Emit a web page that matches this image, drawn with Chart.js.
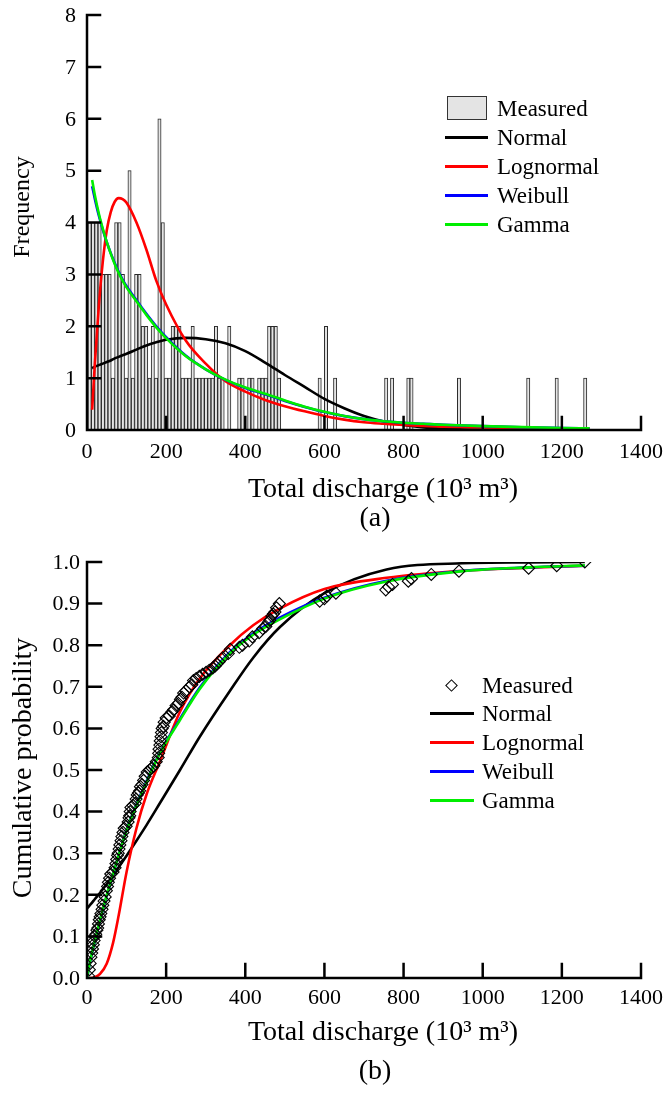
<!DOCTYPE html>
<html>
<head>
<meta charset="utf-8">
<title>Total discharge distributions</title>
<script src="https://cdn.jsdelivr.net/npm/chart.js@4.4.0/dist/chart.umd.min.js"></script>
<style>
  body { margin: 0; background: #fff; width: 665px; height: 1093px; position: relative; overflow: hidden;
         font-family: "Liberation Serif", "Times New Roman", serif; }
  canvas { position: absolute; left: 0; }
  #chartA { top: 0; }
  #chartB { top: 545px; }
  .legend { position: absolute; font-size: 23px; color: #000; }
  .legend .row { position: absolute; left: 0; height: 29px; line-height: 29px; white-space: nowrap; }
  .legend .sw { position: absolute; }
  .legend .txt { position: absolute; top: 0; }
</style>
</head>
<body>
<canvas id="chartA" width="665" height="545"></canvas>
<canvas id="chartB" width="665" height="548"></canvas>
<div class="legend" id="legendA" style="left:445px; top:93.5px;"></div>
<div class="legend" id="legendB" style="left:430px; top:670.5px;"></div>
<script>
const FONT = "'Liberation Serif', 'Times New Roman', serif";

// axis ticks
const xTicks = [0, 200, 400, 600, 800, 1000, 1200, 1400];
const yTicksA = [0, 1, 2, 3, 4, 5, 6, 7, 8];
const yTicksB = [0, 0.1, 0.2, 0.3, 0.4, 0.5, 0.6, 0.7, 0.8, 0.9, 1.0];

const seriesNames = ['Measured', 'Normal', 'Lognormal', 'Weibull', 'Gamma'];
const seriesColors = ['#000000', '#000000', '#ff0000', '#0000ff', '#00ee00'];

// (a) histogram of measured events: bin centre (10^3 m3) and count
const histBin = [6.7, 15.1, 23.5, 31.9, 40.3, 48.7, 57.1, 65.5, 73.9, 82.3,
  90.7, 99.1, 107.5, 115.9, 124.3, 132.7, 141.1, 149.5, 157.9, 166.3,
  174.7, 183.1, 191.5, 199.9, 208.3, 216.7, 225.1, 233.5, 241.9, 250.3,
  258.7, 267.1, 275.5, 283.9, 292.3, 300.7, 309.1, 317.5, 325.9, 334.3,
  342.7, 359.5, 384.7, 393.1, 409.9, 418.3, 435.1, 443.5, 451.9, 460.3,
  468.7, 477.1, 485.5, 588, 604, 627, 756, 771, 812, 820, 940, 1115, 1187, 1259];
const histCount = [4, 4, 4, 4, 3, 3, 3, 1, 4, 4,
  3, 1, 5, 1, 3, 3, 2, 2, 1, 2,
  1, 6, 4, 1, 1, 2, 2, 2, 1, 1,
  1, 2, 1, 1, 1, 1, 1, 1, 2, 1,
  1, 2, 1, 1, 1, 1, 1, 1, 1, 2,
  2, 2, 1, 1, 2, 1, 1, 1, 1, 1, 1, 1, 1, 1];

// (a) fitted density curves, scaled to frequency
const pdfX = [13, 20, 30, 40, 50, 60, 70, 80, 90, 100, 125, 150, 175, 200, 250, 300,
  350, 400, 450, 500, 550, 600, 650, 700, 750, 800, 850, 900, 1000, 1100, 1200, 1270];
const pdfNormal = [1.19, 1.22, 1.25, 1.28, 1.31, 1.34, 1.38, 1.41, 1.44, 1.47, 1.55, 1.63, 1.69, 1.74, 1.775, 1.75,
  1.67, 1.52, 1.30, 1.06, 0.83, 0.60, 0.42, 0.27, 0.165, 0.095, 0.05, 0.025, 0.006, 0.001, 0, 0];
const pdfLognormal = [0.39, 1.3, 2.4, 3.25, 3.85, 4.2, 4.4, 4.47, 4.45, 4.38, 4.0, 3.48, 2.88, 2.42, 1.72, 1.28,
  0.94, 0.74, 0.58, 0.46, 0.36, 0.27, 0.2, 0.15, 0.12, 0.095, 0.078, 0.065, 0.047, 0.035, 0.026, 0.021];
const pdfWeibull = [4.70, 4.45, 4.13, 3.86, 3.62, 3.41, 3.22, 3.05, 2.90, 2.77, 2.50, 2.24, 2.0, 1.79, 1.43, 1.17,
  0.965, 0.81, 0.69, 0.56, 0.445, 0.345, 0.268, 0.21, 0.17, 0.14, 0.12, 0.10, 0.074, 0.054, 0.04, 0.031];
const pdfGamma = [4.82, 4.52, 4.17, 3.88, 3.62, 3.40, 3.20, 3.03, 2.88, 2.75, 2.48, 2.22, 1.98, 1.77, 1.42, 1.17,
  0.97, 0.82, 0.70, 0.57, 0.45, 0.35, 0.27, 0.21, 0.17, 0.14, 0.12, 0.10, 0.075, 0.055, 0.04, 0.032];

// (b) measured cumulative probability
const cdfMeasX = [4, 6, 8, 10, 12, 14, 16, 18, 20, 22, 25, 27, 29, 31, 33, 35, 38, 40, 43, 46,
  49, 52, 54, 57, 60, 66, 71, 73, 75, 77, 79, 81, 83, 86, 88, 91, 94, 99, 104, 106,
  108, 109, 111, 116, 122, 124, 127, 130, 133, 135, 139, 143, 147, 152, 158, 164, 169, 175, 180, 181,
  182, 184, 185, 187, 188, 190, 193, 195, 200, 208, 215, 219, 225, 231, 236, 240, 244, 250, 259, 265,
  269, 276, 284, 292, 301, 309, 318, 324, 328, 334, 343, 357, 362, 385, 393, 410, 418, 435, 444, 452,
  458, 462, 467, 471, 475, 479, 486, 588, 600, 606, 629, 755, 762, 772, 812, 820, 870, 940, 1116, 1187, 1258];
const cdfMeasP = [0.005, 0.02, 0.035, 0.05, 0.06, 0.07, 0.08, 0.09, 0.10, 0.105, 0.115, 0.12, 0.13, 0.14, 0.147, 0.155, 0.165, 0.175, 0.185, 0.195,
  0.21, 0.22, 0.23, 0.24, 0.25, 0.255, 0.265, 0.275, 0.285, 0.295, 0.30, 0.31, 0.32, 0.33, 0.34, 0.35, 0.36, 0.365, 0.375, 0.385,
  0.39, 0.40, 0.41, 0.415, 0.42, 0.43, 0.44, 0.445, 0.45, 0.46, 0.465, 0.475, 0.485, 0.495, 0.50, 0.505, 0.51, 0.52, 0.53, 0.54,
  0.55, 0.56, 0.57, 0.58, 0.59, 0.60, 0.605, 0.615, 0.625, 0.63, 0.64, 0.645, 0.655, 0.66, 0.67, 0.675, 0.685, 0.69, 0.70, 0.705,
  0.715, 0.72, 0.725, 0.73, 0.735, 0.74, 0.745, 0.75, 0.755, 0.76, 0.77, 0.78, 0.79, 0.795, 0.80, 0.81, 0.82, 0.83, 0.84, 0.845,
  0.855, 0.86, 0.87, 0.875, 0.88, 0.89, 0.90, 0.906, 0.912, 0.918, 0.925, 0.933, 0.94, 0.946, 0.954, 0.96, 0.97, 0.978, 0.985, 0.991, 1.0];

// (b) fitted cumulative curves
const cdfX = [0, 10, 20, 33, 50, 66, 80, 100, 125, 150, 184, 235, 285, 361, 420, 487, 600, 757, 950, 1116, 1258];
const cdfNormal = [0.167, 0.178, 0.19, 0.205, 0.226, 0.247, 0.266, 0.294, 0.33, 0.367, 0.42, 0.50, 0.58, 0.69, 0.77, 0.843, 0.925, 0.982, 0.997, 0.999, 1.0];
const cdfLognormal = [0, 0, 0.002, 0.01, 0.035, 0.085, 0.15, 0.255, 0.36, 0.44, 0.52, 0.64, 0.72, 0.80, 0.848, 0.888, 0.935, 0.962, 0.979, 0.986, 0.991];
const cdfWeibull = [0, 0.048, 0.088, 0.138, 0.198, 0.249, 0.295, 0.356, 0.417, 0.472, 0.542, 0.623, 0.698, 0.783, 0.828, 0.866, 0.914, 0.955, 0.979, 0.987, 0.991];
const cdfGamma = [0, 0.05, 0.09, 0.14, 0.20, 0.25, 0.295, 0.355, 0.415, 0.47, 0.54, 0.62, 0.695, 0.78, 0.825, 0.862, 0.912, 0.953, 0.978, 0.987, 0.992];

function pairs(xs, ys) {
  return xs.map((x, i) => ({ x: x, y: ys[i] }));
}

function curve(label, xs, ys, color, order) {
  return {
    type: 'line', label: label, data: pairs(xs, ys),
    borderColor: color, borderWidth: 2.6, pointRadius: 0,
    cubicInterpolationMode: 'monotone', fill: false, order: order
  };
}

// axis lines, inward ticks, tick labels and titles (serif, like the original figure)
const framePlugin = {
  id: 'frame',
  afterDatasetsDraw(chart, args, o) {
    const { ctx, chartArea: a, scales: { x, y } } = chart;
    ctx.save();
    ctx.strokeStyle = '#000';
    ctx.lineWidth = 2.5;
    ctx.lineCap = 'square';
    ctx.beginPath();
    ctx.moveTo(a.left, a.top);
    ctx.lineTo(a.left, a.bottom);
    ctx.lineTo(a.right, a.bottom);
    x.ticks.forEach(t => {
      const px = x.getPixelForValue(t.value);
      ctx.moveTo(px, a.bottom);
      ctx.lineTo(px, a.bottom - o.tickLen);
    });
    y.ticks.forEach(t => {
      const py = y.getPixelForValue(t.value);
      ctx.moveTo(a.left, py);
      ctx.lineTo(a.left + o.tickLen, py);
    });
    ctx.stroke();
    ctx.restore();
  },
  afterDraw(chart, args, o) {
    const { ctx, chartArea: a, scales: { x, y } } = chart;
    ctx.save();
    ctx.fillStyle = '#000';
    ctx.textBaseline = 'middle';
    ctx.font = '22px ' + FONT;
    ctx.textAlign = 'center';
    x.ticks.forEach(t => {
      ctx.fillText(String(t.value), x.getPixelForValue(t.value), a.bottom + o.xLabelGap);
    });
    ctx.textAlign = 'right';
    y.ticks.forEach(t => {
      ctx.fillText(o.yFmt(t.value), a.left - o.yLabelGap, y.getPixelForValue(t.value) + 1);
    });
    ctx.textAlign = 'center';
    ctx.font = '28px ' + FONT;
    ctx.fillText('Total discharge (10\u00b3 m\u00b3)', o.xTitleX, o.xTitleY);
    ctx.fillText(o.caption, o.captionX, o.captionY);
    ctx.translate(o.yTitleX, o.yTitleY);
    ctx.rotate(-Math.PI / 2);
    ctx.font = o.yTitleSize + 'px ' + FONT;
    ctx.fillText(o.yTitle, 0, 0);
    ctx.restore();
  }
};

function baseOptions(cfg) {
  return {
    responsive: false,
    animation: false,
    events: [],
    layout: { padding: { left: 0, right: 24, top: cfg.top, bottom: 0 } },
    plugins: {
      legend: { display: false },
      tooltip: { enabled: false },
      frame: cfg.frame
    },
    scales: {
      x: {
        type: 'linear', min: 0, max: 1400, offset: false,
        grid: { display: false, drawTicks: false },
        border: { display: false },
        afterBuildTicks: s => { s.ticks = xTicks.map(v => ({ value: v })); },
        ticks: { display: false },
        afterFit: s => { s.height = cfg.xHeight; }
      },
      y: {
        type: 'linear',
        min: cfg.yTicks[0], max: cfg.yTicks[cfg.yTicks.length - 1],
        grid: { display: false, drawTicks: false },
        border: { display: false },
        afterBuildTicks: s => { s.ticks = cfg.yTicks.map(v => ({ value: v })); },
        ticks: { display: false },
        afterFit: s => { s.width = 87; }
      }
    }
  };
}

new Chart(document.getElementById('chartA'), {
  type: 'line',
  data: {
    datasets: [
      {
        type: 'bar', label: seriesNames[0], data: pairs(histBin, histCount),
        backgroundColor: '#e4e4e4', borderColor: '#2a2a2a', borderWidth: 1,
        barThickness: 3.3, grouped: false, order: 10
      },
      curve(seriesNames[1], pdfX, pdfNormal, seriesColors[1], 4),
      curve(seriesNames[2], pdfX, pdfLognormal, seriesColors[2], 3),
      curve(seriesNames[3], pdfX, pdfWeibull, seriesColors[3], 2),
      curve(seriesNames[4], pdfX, pdfGamma, seriesColors[4], 1)
    ]
  },
  options: baseOptions({
    top: 15, xHeight: 115, yTicks: yTicksA,
    frame: {
      tickLen: 13, xLabelGap: 22, yLabelGap: 11, yFmt: v => String(v),
      caption: '(a)', xTitleX: 383, xTitleY: 490, captionX: 375, captionY: 519,
      yTitle: 'Frequency', yTitleSize: 24, yTitleX: 23, yTitleY: 207
    }
  }),
  plugins: [framePlugin]
});

new Chart(document.getElementById('chartB'), {
  type: 'line',
  data: {
    datasets: [
      {
        type: 'line', label: seriesNames[0], data: pairs(cdfMeasX, cdfMeasP), showLine: false,
        pointStyle: 'rectRot', pointRadius: 6, pointBorderWidth: 1.1,
        pointBorderColor: '#000', pointBackgroundColor: 'rgba(255,255,255,0)', order: 0
      },
      curve(seriesNames[1], cdfX, cdfNormal, seriesColors[1], 4),
      curve(seriesNames[2], cdfX, cdfLognormal, seriesColors[2], 3),
      curve(seriesNames[3], cdfX, cdfWeibull, seriesColors[3], 2),
      curve(seriesNames[4], cdfX, cdfGamma, seriesColors[4], 1)
    ]
  },
  options: baseOptions({
    top: 17, xHeight: 115, yTicks: yTicksB,
    frame: {
      tickLen: 14, xLabelGap: 20, yLabelGap: 7, yFmt: v => v.toFixed(1),
      caption: '(b)', xTitleX: 383, xTitleY: 488, captionX: 375, captionY: 527,
      yTitle: 'Cumulative probability', yTitleSize: 28, yTitleX: 24, yTitleY: 223
    }
  }),
  plugins: [framePlugin]
});

// legends inside the plot areas
function buildLegend(id, swatches, rowH, swW, txtX) {
  const el = document.getElementById(id);
  seriesNames.forEach((name, i) => {
    const row = document.createElement('div');
    row.className = 'row';
    row.style.top = (i * rowH) + 'px';
    const sw = document.createElement('div');
    sw.className = 'sw';
    const kind = swatches[i];
    if (kind === 'box') {
      sw.style.cssText = 'left:2px; top:2px; width:38px; height:22px; background:#e4e4e4; border:1.5px solid #333;';
    } else if (kind === 'diamond') {
      sw.style.cssText = 'left:17px; top:10px; width:7px; height:7px; border:1.1px solid #000; transform:rotate(45deg);';
    } else {
      sw.style.cssText = 'left:0; top:13px; width:' + swW + 'px; height:3px; background:' + seriesColors[i] + ';';
    }
    const txt = document.createElement('span');
    txt.className = 'txt';
    txt.style.left = txtX + 'px';
    txt.textContent = name;
    row.appendChild(sw);
    row.appendChild(txt);
    el.appendChild(row);
  });
}

buildLegend('legendA', ['box', 'line', 'line', 'line', 'line'], 29, 43, 52);
buildLegend('legendB', ['diamond', 'line', 'line', 'line', 'line'], 28.8, 44, 52);
</script>
</body>
</html>
